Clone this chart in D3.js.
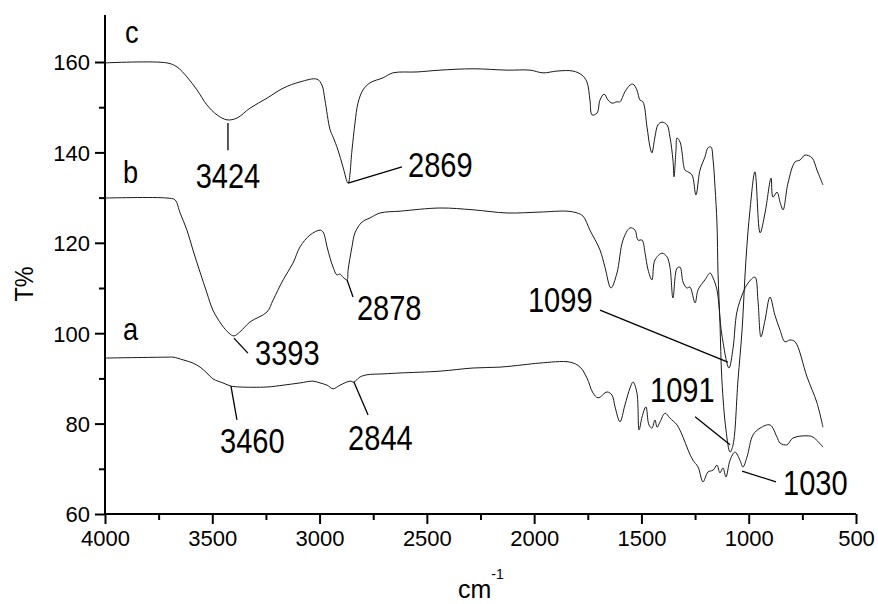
<!DOCTYPE html>
<html><head><meta charset="utf-8">
<script src="https://cdn.jsdelivr.net/npm/d3@7"></script>
<style>
html,body{margin:0;padding:0;background:#fff;}
svg text{font-family:"Liberation Sans",Arial,sans-serif;fill:#000;}
</style></head>
<body><svg id="chart" width="878" height="604"></svg>
<script>
// ---- data ----
const xMajorTicks = [4000, 3500, 3000, 2500, 2000, 1500, 1000, 500];
const xMinorTicks = [3750, 3250, 2750, 2250, 1750, 1250, 750];
const yMajorTicks = [60, 80, 100, 120, 140, 160];
const yMinorTicks = [70, 90, 110, 130, 150];

const waveC = [4000,3711,3664,3618,3571,3525,3478,3431,3385,3324,3245,3170,3091,3012,2989,2975,2951,2937,2914,2891,2867,2849,2835,2821,2798,2765,2704,2658,2546,2439,2285,2126,2019,1959,1893,1819,1777,1754,1740,1730,1707,1693,1674,1656,1637,1614,1600,1577,1553,1539,1521,1507,1493,1474,1460,1451,1437,1423,1404,1381,1367,1353,1348,1339,1334,1320,1311,1297,1283,1264,1246,1227,1204,1190,1176,1166,1157,1148,1143,1134,1125,1106,1087,1073,1050,1031,1013,994,971,947,924,896,887,868,854,840,817,784,761,738,705,682,654];
const transC = [159.8,159.8,158.9,156.7,153.8,150.5,148.3,147.2,147.6,149.8,152.0,154.2,155.6,156.2,154.9,151.6,145.0,143.4,140.5,136.8,133.2,140.5,146.5,150.9,153.8,155.4,156.5,157.6,157.8,158.2,158.5,158.2,158.2,157.6,158.0,158.0,157.1,155.6,151.6,148.3,148.7,151.6,152.9,151.6,150.9,151.2,151.2,153.4,154.9,155.1,153.8,151.6,151.2,145.6,141.2,139.9,143.4,146.1,146.7,146.1,143.4,138.3,134.6,140.5,143.2,142.3,140.1,136.1,135.7,135.0,130.6,136.1,139.0,141.0,141.2,138.3,132.3,124.4,113.3,102.3,89.6,78.6,73.7,75.3,89.6,100.7,116.2,127.3,135.7,122.2,126.6,134.3,130.1,131.2,129.0,127.3,133.2,137.9,138.3,139.4,138.8,136.1,132.8];

const waveB = [4000,3711,3674,3650,3618,3590,3557,3525,3497,3455,3422,3399,3371,3324,3245,3217,3170,3124,3091,3045,2998,2984,2965,2951,2937,2919,2905,2891,2872,2867,2849,2835,2802,2765,2718,2625,2439,2285,2126,1973,1847,1800,1772,1740,1693,1670,1642,1614,1586,1553,1530,1516,1497,1483,1469,1451,1437,1404,1381,1367,1353,1334,1320,1306,1288,1274,1250,1236,1204,1180,1166,1148,1125,1092,1073,1055,1027,1003,971,957,943,924,901,878,854,831,808,784,728,682,654];
const transB = [129.9,129.9,129.5,126.6,122.8,118.4,113.5,108.9,105.1,101.8,100.0,99.4,100.3,102.5,104.7,107.3,111.8,115.5,119.1,121.7,122.8,122.4,119.1,116.6,114.6,112.9,113.1,112.4,111.8,114.0,119.1,122.2,124.6,125.5,126.6,127.0,127.7,127.3,126.6,126.8,127.0,126.6,125.9,122.8,118.4,114.6,110.0,113.3,120.6,123.3,122.8,120.6,120.6,117.7,114.0,111.8,116.2,117.7,116.9,114.6,107.8,114.4,114.6,111.3,110.0,110.2,106.7,109.6,111.8,113.3,112.2,109.6,99.6,92.3,96.7,104.7,108.9,111.1,112.4,107.3,99.2,102.9,108.0,104.0,100.7,98.1,98.5,98.1,90.3,84.6,79.2];

const waveA = [4000,3711,3683,3636,3590,3557,3525,3497,3450,3413,3371,3245,3170,3091,3031,2998,2965,2937,2905,2858,2840,2812,2779,2704,2625,2439,2285,2159,2052,1973,1833,1786,1754,1726,1702,1660,1637,1623,1600,1577,1553,1539,1521,1511,1497,1479,1465,1451,1437,1427,1413,1390,1367,1334,1306,1283,1260,1236,1213,1190,1166,1148,1134,1120,1106,1087,1064,1041,1027,1008,980,947,901,868,854,822,794,728,700,654];
const transA = [94.5,94.7,94.7,94.1,93.4,92.5,91.2,89.9,89.0,88.3,88.1,88.1,88.5,89.0,89.4,89.0,88.5,87.7,88.5,89.4,89.2,90.3,90.8,91.0,91.2,91.6,92.3,92.5,93.0,93.4,93.6,92.5,90.1,86.8,85.7,87.0,86.3,83.7,80.4,84.1,87.9,89.2,86.8,78.6,81.5,83.7,79.7,79.0,80.8,79.2,80.4,82.3,81.2,79.7,77.0,74.2,71.9,70.4,67.1,69.3,69.7,70.8,69.1,70.2,68.2,71.9,73.7,71.9,70.4,72.6,77.5,79.0,79.7,77.0,75.7,75.3,76.8,77.3,77.0,74.8];

const curveNames = ["c", "b", "a"];
const curveNamePos = [[3907, 164.2], [3916, 133.2], [3916, 98.5]];

// peak annotations: text, text anchor (wn, T), leader from (wn, T) to (wn, T)
const peakText  = ["3424", "2869", "2878", "3393", "3460", "2844", "1099", "1091", "1030"];
const peakTextPos = [[3427,132.1],[2588,134.6],[2826,102.9],[3301,93.0],[3464,73.5],[2867,74.2],[2029,104.7],[1460,84.8],[840,64.2]];
const peakTextAnchor = ["middle","start","start","start","start","start","start","start","start"];
const leaderFrom = [[3427,146.5],[2867,133.2],[2872,111.8],[3399,98.9],[3413,88.3],[2840,89.2],[1693,105.1],[1250,81.5],[1031,69.5]];
const leaderTo   = [[3427,140.5],[2616,136.8],[2844,108.0],[3334,95.6],[3385,80.8],[2774,81.9],[1097,93.6],[1087,75.3],[873,67.1]];

// ---- drawing ----
const svg = d3.select("#chart");
const x = d3.scaleLinear().domain([4000, 500]).range([105, 856]);
const y = d3.scaleLinear().domain([60, 170.4]).range([514, 15]);

const line = d3.line().x(d => x(d[0])).y(d => y(d[1])).curve(d3.curveCatmullRom.alpha(0.5));
const series = [[waveC, transC], [waveB, transB], [waveA, transA]];
series.forEach(([w, t]) => {
  svg.append("path")
    .datum(w.map((v, i) => [v, t[i]]))
    .attr("d", line)
    .attr("fill", "none")
    .attr("stroke", "#1a1a1a")
    .attr("stroke-width", 1);
});

// axes
const xAxis = svg.append("g").attr("transform", "translate(0,514)");
xAxis.call(d3.axisBottom(x).tickValues(xMinorTicks).tickSize(6).tickFormat(""));
xAxis.append("g").call(d3.axisBottom(x).tickValues(xMajorTicks).tickSize(10).tickPadding(6).tickFormat(d3.format("d")));
const yAxis = svg.append("g").attr("transform", "translate(105,0)");
yAxis.call(d3.axisLeft(y).tickValues(yMinorTicks).tickSize(6).tickFormat(""));
yAxis.append("g").call(d3.axisLeft(y).tickValues(yMajorTicks).tickSize(10).tickPadding(5).tickFormat(d3.format("d")));

svg.selectAll(".domain").attr("stroke", "#000").attr("stroke-width", 2);
svg.selectAll(".tick line").attr("stroke", "#000").attr("stroke-width", 2);
svg.selectAll(".tick text").attr("font-size", 22).attr("font-family", "Liberation Sans, Arial, sans-serif").attr("fill", "#000");
yAxis.selectAll(".tick text").attr("dy", "0.36em");
xAxis.selectAll(".tick text").attr("dy", "0.71em");
// make sure the axis lines exactly span the plot
xAxis.selectAll(".domain").attr("d", `M${x(4000)},0H${x(500)}`);
yAxis.selectAll(".domain").attr("d", `M0,${y(60)}V${y(170.4)}`);

// axis titles
svg.append("text").attr("transform", "translate(33,284) rotate(-90) scale(0.9,1)")
  .attr("text-anchor", "middle").attr("font-size", 26).text("T%");
const xt = svg.append("text").attr("x", 458).attr("y", 598).attr("font-size", 25);
xt.append("tspan").text("cm");
xt.append("tspan").attr("font-size", 14).attr("dy", -19).text("-1");

// curve names
curveNames.forEach((n, i) => {
  svg.append("text")
    .attr("transform", `translate(${x(curveNamePos[i][0])},${y(curveNamePos[i][1])}) scale(0.85,1)`)
    .attr("font-size", 32).text(n);
});

// peak annotations
peakText.forEach((t, i) => {
  svg.append("line")
    .attr("x1", x(leaderFrom[i][0])).attr("y1", y(leaderFrom[i][1]))
    .attr("x2", x(leaderTo[i][0])).attr("y2", y(leaderTo[i][1]))
    .attr("stroke", "#000").attr("stroke-width", 1.3);
  svg.append("text")
    .attr("transform", `translate(${x(peakTextPos[i][0])},${y(peakTextPos[i][1])}) scale(0.83,1)`)
    .attr("text-anchor", peakTextAnchor[i])
    .attr("font-size", 35).text(t);
});
</script></body></html>
